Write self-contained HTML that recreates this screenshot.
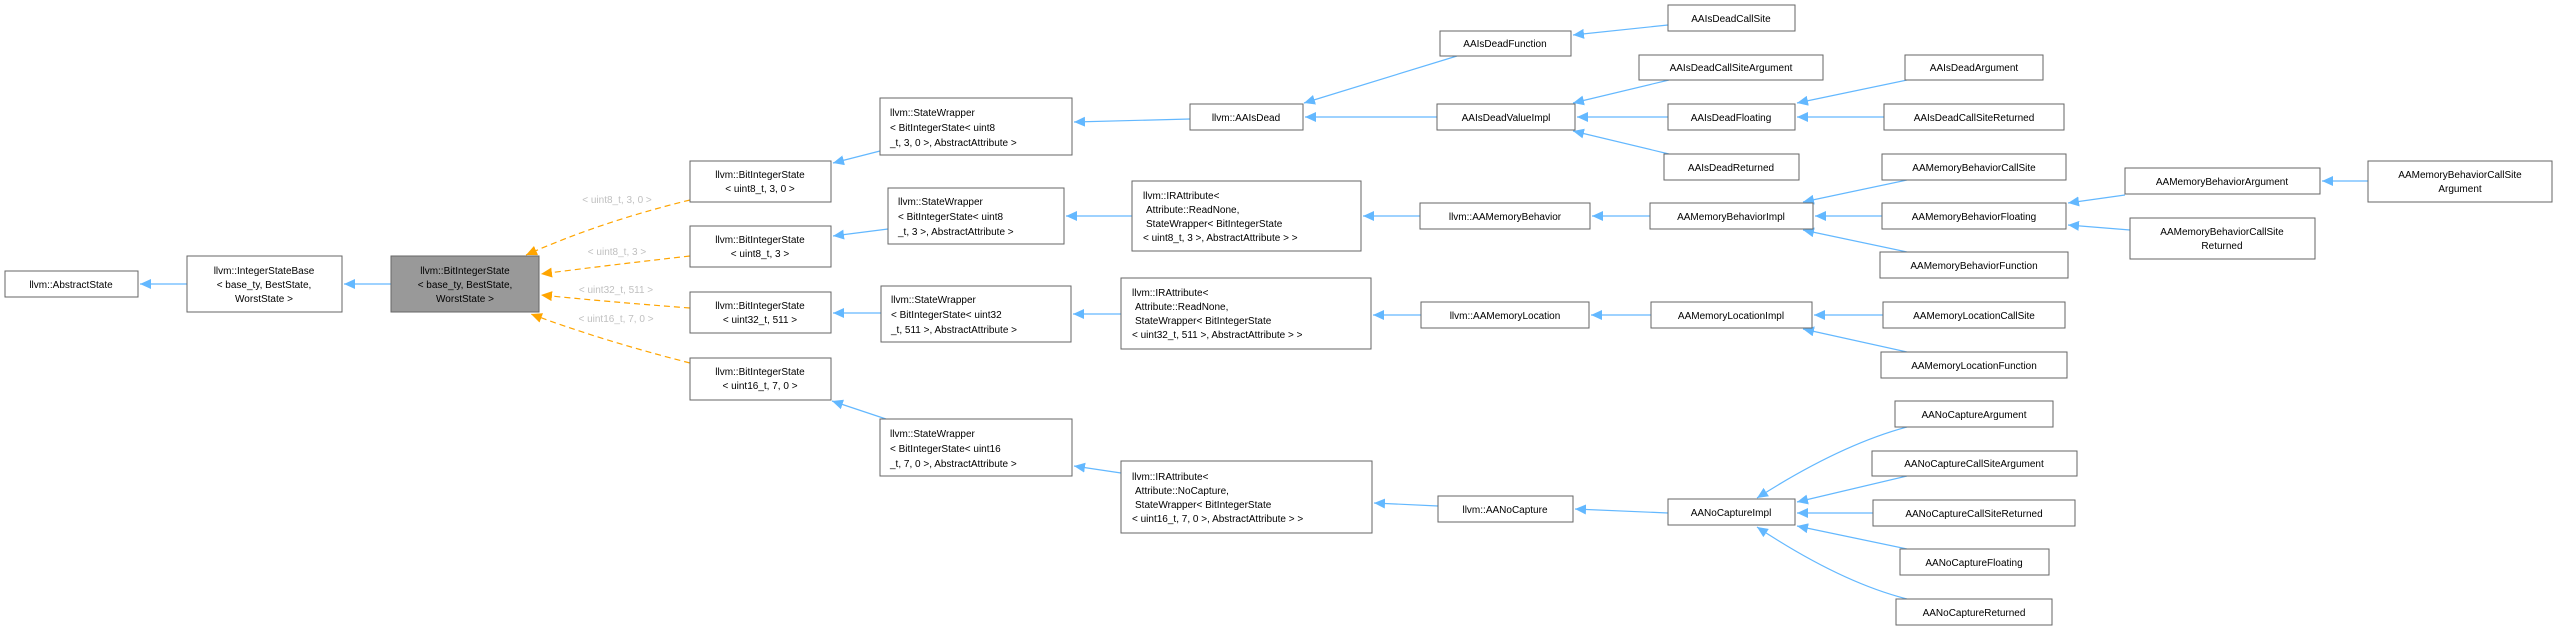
<!DOCTYPE html>
<html><head><meta charset="utf-8"><style>
html,body{margin:0;padding:0;background:#fff;}
svg{display:block;font-family:"Liberation Sans",Arial,sans-serif;font-size:10px;}
</style></head><body>
<svg width="2557" height="628" viewBox="0 0 2557 628" xmlns="http://www.w3.org/2000/svg">
<defs>
<marker id="b" markerWidth="12" markerHeight="10" refX="11" refY="5" orient="auto" markerUnits="userSpaceOnUse"><path d="M0,0 L11,5 L0,10 z" fill="#63b8ff"/></marker>
<marker id="o" markerWidth="12" markerHeight="10" refX="11" refY="5" orient="auto" markerUnits="userSpaceOnUse"><path d="M0,0 L11,5 L0,10 z" fill="#ffa500"/></marker>
</defs>
<g fill="none" stroke="#63b8ff" stroke-width="1.2" marker-end="url(#b)">
<path d="M187,284 L140,284"/>
<path d="M391,284 L344,284"/>
<path d="M880,151 L833,163"/>
<path d="M888,229 L833,236"/>
<path d="M881,313 L833,313"/>
<path d="M886,419 L832,401"/>
<path d="M1190,119 L1074,122"/>
<path d="M1457,56 L1304,103"/>
<path d="M1437,117 L1305,117"/>
<path d="M1132,216 L1066,216"/>
<path d="M1420,216 L1363,216"/>
<path d="M1121,314 L1073,314"/>
<path d="M1421,315 L1373,315"/>
<path d="M1121,473 L1074,466"/>
<path d="M1438,506 L1374,503"/>
<path d="M1668,25 L1573,35"/>
<path d="M1669,80 L1573,103"/>
<path d="M1668,117 L1577,117"/>
<path d="M1669,154 L1573,131"/>
<path d="M1907,80 L1797,103"/>
<path d="M1884,117 L1797,117"/>
<path d="M1907,180 L1803,202"/>
<path d="M1882,216 L1815,216"/>
<path d="M1907,252 L1803,230"/>
<path d="M2125,195 L2068,203"/>
<path d="M2130,230 L2068,225"/>
<path d="M2368,181 L2322,181"/>
<path d="M1883,315 L1814,315"/>
<path d="M1907,352 L1803,329"/>
<path d="M1650,216 L1592,216"/>
<path d="M1651,315 L1591,315"/>
<path d="M1668,513 L1575,509"/>
<path d="M1907,427 Q1840,445 1757,498"/>
<path d="M1907,476 L1797,502"/>
<path d="M1873,513 L1797,513"/>
<path d="M1907,549 L1797,526"/>
<path d="M1907,599 Q1840,582 1757,527"/>
</g>
<g fill="none" stroke="#ffa500" stroke-width="1.2" stroke-dasharray="6,4" marker-end="url(#o)">
<path d="M690,200 Q600,222 526,255"/>
<path d="M690,256 Q610,265 541,274"/>
<path d="M690,308 Q610,302 541,295"/>
<path d="M690,363 Q600,340 531,314"/>
</g>
<g font-size="10" fill="#c0c0c0" text-anchor="middle">
<text x="617" y="203">&lt; uint8_t, 3, 0 &gt;</text>
<text x="617" y="255">&lt; uint8_t, 3 &gt;</text>
<text x="616" y="293">&lt; uint32_t, 511 &gt;</text>
<text x="616" y="322">&lt; uint16_t, 7, 0 &gt;</text>
</g>
<g stroke="#666" stroke-width="1" fill="#fff">
<rect x="5" y="271" width="133" height="26"/>
<rect x="187" y="256" width="155" height="56"/>
<rect x="391" y="256" width="148" height="56" fill="#999"/>
<rect x="690" y="161" width="141" height="41"/>
<rect x="690" y="226" width="141" height="41"/>
<rect x="690" y="292" width="141" height="41"/>
<rect x="690" y="358" width="141" height="42"/>
<rect x="880" y="98" width="192" height="57"/>
<rect x="888" y="188" width="176" height="56"/>
<rect x="881" y="286" width="190" height="56"/>
<rect x="880" y="419" width="192" height="57"/>
<rect x="1190" y="104" width="113" height="26"/>
<rect x="1440" y="31" width="131" height="25"/>
<rect x="1437" y="104" width="138" height="26"/>
<rect x="1132" y="181" width="229" height="70"/>
<rect x="1420" y="203" width="170" height="26"/>
<rect x="1121" y="278" width="250" height="71"/>
<rect x="1421" y="302" width="168" height="26"/>
<rect x="1121" y="461" width="251" height="72"/>
<rect x="1438" y="496" width="135" height="26"/>
<rect x="1668" y="5" width="127" height="26"/>
<rect x="1639" y="55" width="184" height="25"/>
<rect x="1668" y="104" width="127" height="26"/>
<rect x="1664" y="154" width="135" height="26"/>
<rect x="1650" y="203" width="163" height="26"/>
<rect x="1651" y="302" width="161" height="26"/>
<rect x="1668" y="499" width="127" height="26"/>
<rect x="1905" y="55" width="138" height="25"/>
<rect x="1884" y="104" width="180" height="26"/>
<rect x="1882" y="154" width="184" height="26"/>
<rect x="1882" y="203" width="184" height="26"/>
<rect x="1880" y="252" width="188" height="26"/>
<rect x="1883" y="302" width="182" height="26"/>
<rect x="1881" y="352" width="186" height="26"/>
<rect x="1895" y="401" width="158" height="26"/>
<rect x="1872" y="451" width="205" height="25"/>
<rect x="1873" y="500" width="202" height="26"/>
<rect x="1900" y="549" width="149" height="26"/>
<rect x="1896" y="599" width="156" height="26"/>
<rect x="2125" y="168" width="195" height="26"/>
<rect x="2130" y="218" width="185" height="41"/>
<rect x="2368" y="161" width="184" height="41"/>
</g>
<g fill="#000" text-anchor="middle">
<text x="71" y="288">llvm::AbstractState</text>
<text x="264" y="274">llvm::IntegerStateBase</text><text x="264" y="288">&lt; base_ty, BestState,</text><text x="264" y="302">WorstState &gt;</text>
<text x="465" y="274">llvm::BitIntegerState</text><text x="465" y="288">&lt; base_ty, BestState,</text><text x="465" y="302">WorstState &gt;</text>
<text x="760" y="178">llvm::BitIntegerState</text><text x="760" y="192">&lt; uint8_t, 3, 0 &gt;</text>
<text x="760" y="243">llvm::BitIntegerState</text><text x="760" y="257">&lt; uint8_t, 3 &gt;</text>
<text x="760" y="309">llvm::BitIntegerState</text><text x="760" y="323">&lt; uint32_t, 511 &gt;</text>
<text x="760" y="375">llvm::BitIntegerState</text><text x="760" y="389">&lt; uint16_t, 7, 0 &gt;</text>
<text x="1246" y="121">llvm::AAIsDead</text>
<text x="1505" y="47">AAIsDeadFunction</text>
<text x="1506" y="121">AAIsDeadValueImpl</text>
<text x="1505" y="220">llvm::AAMemoryBehavior</text>
<text x="1505" y="319">llvm::AAMemoryLocation</text>
<text x="1505" y="513">llvm::AANoCapture</text>
<text x="1731" y="22">AAIsDeadCallSite</text>
<text x="1731" y="71">AAIsDeadCallSiteArgument</text>
<text x="1731" y="121">AAIsDeadFloating</text>
<text x="1731" y="171">AAIsDeadReturned</text>
<text x="1731" y="220">AAMemoryBehaviorImpl</text>
<text x="1731" y="319">AAMemoryLocationImpl</text>
<text x="1731" y="516">AANoCaptureImpl</text>
<text x="1974" y="71">AAIsDeadArgument</text>
<text x="1974" y="121">AAIsDeadCallSiteReturned</text>
<text x="1974" y="171">AAMemoryBehaviorCallSite</text>
<text x="1974" y="220">AAMemoryBehaviorFloating</text>
<text x="1974" y="269">AAMemoryBehaviorFunction</text>
<text x="1974" y="319">AAMemoryLocationCallSite</text>
<text x="1974" y="369">AAMemoryLocationFunction</text>
<text x="1974" y="418">AANoCaptureArgument</text>
<text x="1974" y="467">AANoCaptureCallSiteArgument</text>
<text x="1974" y="517">AANoCaptureCallSiteReturned</text>
<text x="1974" y="566">AANoCaptureFloating</text>
<text x="1974" y="616">AANoCaptureReturned</text>
<text x="2222" y="185">AAMemoryBehaviorArgument</text>
<text x="2222" y="235">AAMemoryBehaviorCallSite</text><text x="2222" y="249">Returned</text>
<text x="2460" y="178">AAMemoryBehaviorCallSite</text><text x="2460" y="192">Argument</text>
</g>
<g fill="#000">
<text x="890" y="116">llvm::StateWrapper</text><text x="890" y="131">&lt; BitIntegerState&lt; uint8</text><text x="890" y="146">_t, 3, 0 &gt;, AbstractAttribute &gt;</text>
<text x="898" y="205">llvm::StateWrapper</text><text x="898" y="220">&lt; BitIntegerState&lt; uint8</text><text x="898" y="235">_t, 3 &gt;, AbstractAttribute &gt;</text>
<text x="891" y="303">llvm::StateWrapper</text><text x="891" y="318">&lt; BitIntegerState&lt; uint32</text><text x="891" y="333">_t, 511 &gt;, AbstractAttribute &gt;</text>
<text x="890" y="437">llvm::StateWrapper</text><text x="890" y="452">&lt; BitIntegerState&lt; uint16</text><text x="890" y="467">_t, 7, 0 &gt;, AbstractAttribute &gt;</text>
<text x="1143" y="199">llvm::IRAttribute&lt;</text><text x="1146" y="213">Attribute::ReadNone,</text><text x="1146" y="227">StateWrapper&lt; BitIntegerState</text><text x="1143" y="241">&lt; uint8_t, 3 &gt;, AbstractAttribute &gt; &gt;</text>
<text x="1132" y="296">llvm::IRAttribute&lt;</text><text x="1135" y="310">Attribute::ReadNone,</text><text x="1135" y="324">StateWrapper&lt; BitIntegerState</text><text x="1132" y="338">&lt; uint32_t, 511 &gt;, AbstractAttribute &gt; &gt;</text>
<text x="1132" y="480">llvm::IRAttribute&lt;</text><text x="1135" y="494">Attribute::NoCapture,</text><text x="1135" y="508">StateWrapper&lt; BitIntegerState</text><text x="1132" y="522">&lt; uint16_t, 7, 0 &gt;, AbstractAttribute &gt; &gt;</text>
</g>
</svg>
</body></html>
